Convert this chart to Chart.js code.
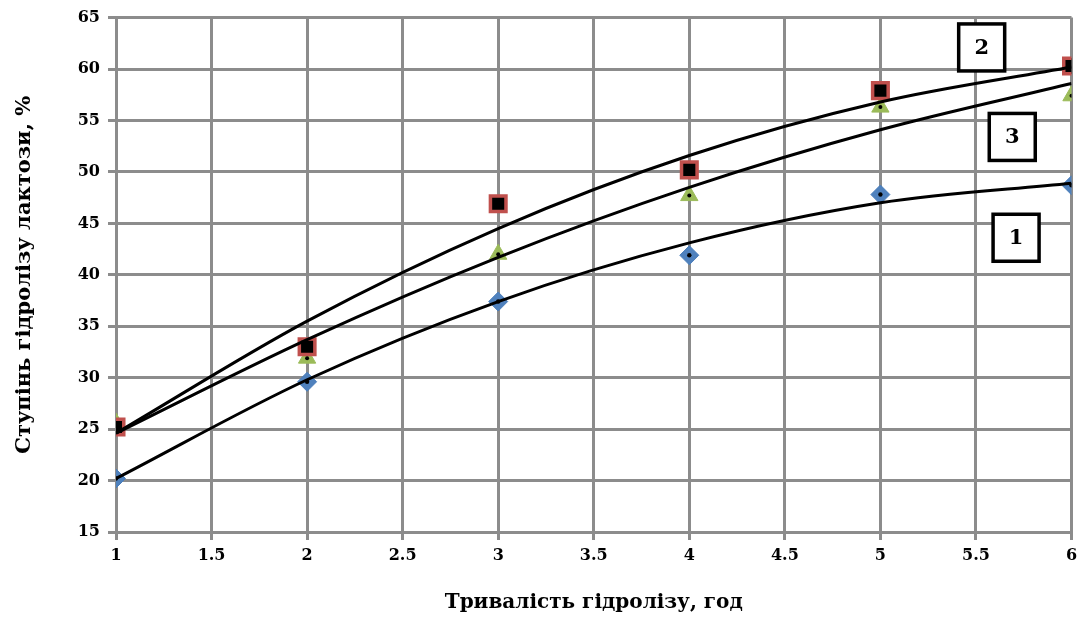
<!DOCTYPE html>
<html>
<head>
<meta charset="utf-8">
<script src="https://cdn.jsdelivr.net/npm/chart.js@4"></script>
<style>
html,body{margin:0;padding:0;background:#fff;}
#wrap{width:1086px;height:619px;}
</style>
</head>
<body>
<div id="wrap"><canvas id="c" width="1086" height="619"></canvas></div>
<script>
const hours = [1, 2, 3, 4, 5, 6];
const series1 = [20.2, 29.6, 37.4, 41.9, 47.8, 48.7];
const series2 = [25.2, 33.0, 46.9, 50.2, 57.9, 60.3];
const series3 = [25.6, 31.9, 42.0, 47.7, 56.3, 57.4];
const trend1 = [20.2, 29.8, 37.4, 43.1, 47.0, 48.9];
const trend2 = [24.6, 35.5, 44.5, 51.6, 56.8, 60.2];
const trend3 = [24.6, 33.7, 41.7, 48.5, 54.1, 58.6];
const curveLabels = ['1', '2', '3'];
const yTitle = 'Ступінь гідролізу лактози, %';
const xTitle = 'Тривалість гідролізу, год';

const pts = arr => hours.map((h, i) => ({x: h, y: arr[i]}));

const boxPlugin = {
  id: 'boxes',
  afterDatasetsDraw(chart, args, opts) {
    const ctx = chart.ctx, xs = chart.scales.x, ys = chart.scales.y;
    ctx.save();
    opts.items.forEach(it => {
      const cx = xs.getPixelForValue(it.x), cy = ys.getPixelForValue(it.y);
      const w = 46, h = 47;
      ctx.fillStyle = '#fff';
      ctx.fillRect(cx - w/2, cy - h/2, w, h);
      ctx.lineWidth = 3.5;
      ctx.strokeStyle = '#000';
      ctx.strokeRect(cx - w/2, cy - h/2, w, h);
      ctx.fillStyle = '#000';
      ctx.font = 'bold 21px "DejaVu Serif"';
      ctx.textAlign = 'center';
      ctx.textBaseline = 'middle';
      ctx.fillText(it.text, cx, cy + 1);
    });
    ctx.restore();
  }
};

const trendDs = arr => ({
  type: 'line', data: pts(arr), borderColor: '#000', borderWidth: 3,
  pointRadius: 0, fill: false, cubicInterpolationMode: 'monotone', order: 0
});

const tickFont = {family: 'DejaVu Serif', size: 16, weight: 'bold'};
const titleFont = {family: 'DejaVu Serif', size: 20, weight: 'bold'};

new Chart(document.getElementById('c'), {
  type: 'scatter',
  data: {
    datasets: [
      trendDs(trend1), trendDs(trend2), trendDs(trend3),
      {data: pts(series1), pointStyle: 'rectRot', pointRadius: 9.5, backgroundColor: '#4f81bd', borderColor: '#4a7ebb', borderWidth: 1, order: 2},
      {data: pts(series2), pointStyle: 'rect', pointRadius: 11, backgroundColor: '#000', borderColor: '#c0504d', borderWidth: 3.5, order: 2},
      {data: pts(series3), pointStyle: 'triangle', pointRadius: 10, backgroundColor: '#9bbb59', borderColor: '#9bbb59', borderWidth: 1, order: 2},
      {data: pts(series1), pointStyle: 'circle', pointRadius: 2.2, backgroundColor: '#000', borderWidth: 0, order: 1},
      {data: pts(series3), pointStyle: 'circle', pointRadius: 2, backgroundColor: '#000', borderWidth: 0, order: 1}
    ]
  },
  options: {
    responsive: false,
    animation: false,
    layout: {padding: {left: 12, right: 7, top: 11, bottom: 2}},
    plugins: {
      legend: {display: false},
      tooltip: {enabled: false},
      boxes: {items: [
        {x: 5.53, y: 62.1, text: curveLabels[1]},
        {x: 5.69, y: 53.4, text: curveLabels[2]},
        {x: 5.71, y: 43.6, text: curveLabels[0]}
      ]}
    },
    scales: {
      x: {
        type: 'linear', min: 1, max: 6,
        afterFit: s => { s.height = 85; },
        ticks: {stepSize: 0.5, color: '#000', font: tickFont, padding: 6, callback: v => String(v)},
        grid: {color: '#8c8c8c', lineWidth: 3, tickLength: 8, tickColor: '#8c8c8c'},
        border: {color: '#8c8c8c', width: 3},
        title: {display: true, text: xTitle, color: '#000', font: titleFont, padding: {top: 6, bottom: 2}}
      },
      y: {
        min: 15, max: 65,
        afterFit: s => { s.width = 104; },
        ticks: {stepSize: 5, color: '#000', font: tickFont, padding: 8, callback: v => String(v)},
        grid: {color: '#8c8c8c', lineWidth: 3, tickLength: 8, tickColor: '#8c8c8c'},
        border: {color: '#8c8c8c', width: 3},
        title: {display: true, text: yTitle, color: '#000', font: {family: 'DejaVu Serif', size: 21, weight: 'bold'}, padding: {top: 0, bottom: 10}}
      }
    }
  },
  plugins: [boxPlugin]
});
</script>
</body>
</html>
